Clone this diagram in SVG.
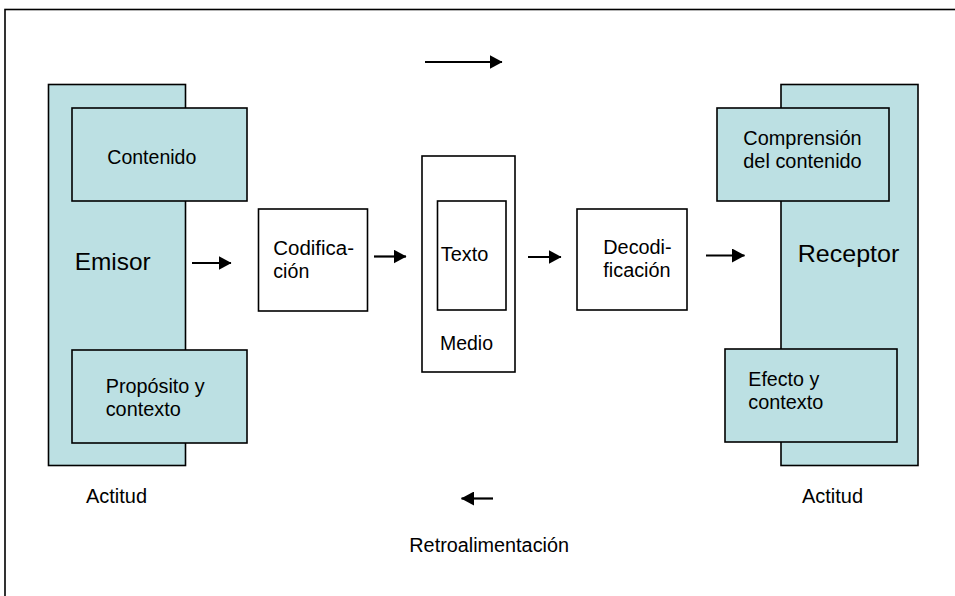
<svg xmlns="http://www.w3.org/2000/svg" width="955" height="596" viewBox="0 0 955 596">
<style>
  .frame{fill:none;stroke:#000;stroke-width:1.6}
  .teal{fill:#BCE0E3;stroke:#000;stroke-width:1.6}
  .white{fill:#fff;stroke:#000;stroke-width:1.6}
  .t{font-family:"Liberation Sans",Arial,sans-serif;font-size:19.5px;fill:#000}
  .big{font-family:"Liberation Sans",Arial,sans-serif;font-size:24px;fill:#000}
  .conn line{stroke:#000;stroke-width:2.2}
</style>
<defs>
  <marker id="ah" viewBox="0 0 13 14" refX="12.5" refY="7" markerWidth="13" markerHeight="14" markerUnits="userSpaceOnUse" orient="auto">
    <path d="M0,0 L13,7 L0,14 Z" fill="#000"/>
  </marker>
</defs>
<rect width="955" height="596" fill="#fff"/>
<rect class="frame" x="5" y="9.5" width="960" height="600"/>

<g id="emisor">
  <rect class="teal" x="48.5" y="84.5" width="137" height="381"/>
  <text class="big" x="74.7" y="270" textLength="76" lengthAdjust="spacingAndGlyphs">Emisor</text>
</g>
<g id="contenido">
  <rect class="teal" x="72" y="108" width="175" height="93"/>
  <text class="t" x="107.3" y="163.5" textLength="89" lengthAdjust="spacingAndGlyphs">Contenido</text>
</g>
<g id="proposito">
  <rect class="teal" x="72" y="350" width="175" height="93"/>
  <text class="t" x="105.7" y="393" textLength="99" lengthAdjust="spacingAndGlyphs">Propósito y</text>
  <text class="t" x="105.7" y="416" textLength="75" lengthAdjust="spacingAndGlyphs">contexto</text>
</g>
<g id="actitud-emisor">
  <text class="t" x="86" y="503" textLength="61" lengthAdjust="spacingAndGlyphs">Actitud</text>
</g>

<g id="codificacion">
  <rect class="white" x="258.5" y="209" width="109" height="102"/>
  <text class="t" x="273.3" y="255" textLength="80.7" lengthAdjust="spacingAndGlyphs">Codifica-</text>
  <text class="t" x="273.3" y="278" textLength="36" lengthAdjust="spacingAndGlyphs">ción</text>
</g>

<g id="medio">
  <rect class="white" x="422" y="156" width="93" height="216"/>
  <text class="t" x="440" y="350" textLength="53" lengthAdjust="spacingAndGlyphs">Medio</text>
</g>
<g id="texto">
  <rect class="white" x="437.5" y="201" width="68.5" height="109"/>
  <text class="t" x="440.7" y="261" textLength="47.6" lengthAdjust="spacingAndGlyphs">Texto</text>
</g>

<g id="decodificacion">
  <rect class="white" x="577" y="209" width="110" height="101"/>
  <text class="t" x="603.3" y="254" textLength="68.3" lengthAdjust="spacingAndGlyphs">Decodi-</text>
  <text class="t" x="603.3" y="277" textLength="67.3" lengthAdjust="spacingAndGlyphs">ficación</text>
</g>

<g id="receptor">
  <rect class="teal" x="781" y="84.5" width="137" height="381"/>
  <text class="big" x="797.7" y="262" textLength="101.6" lengthAdjust="spacingAndGlyphs">Receptor</text>
</g>
<g id="comprension">
  <rect class="teal" x="717" y="108" width="172" height="93"/>
  <text class="t" x="743.3" y="145" textLength="118.4" lengthAdjust="spacingAndGlyphs">Comprensión</text>
  <text class="t" x="743.3" y="168" textLength="118.4" lengthAdjust="spacingAndGlyphs">del contenido</text>
</g>
<g id="efecto">
  <rect class="teal" x="725" y="349" width="172" height="93"/>
  <text class="t" x="748.3" y="386" textLength="71" lengthAdjust="spacingAndGlyphs">Efecto y</text>
  <text class="t" x="748.3" y="408.5" textLength="75" lengthAdjust="spacingAndGlyphs">contexto</text>
</g>
<g id="actitud-receptor">
  <text class="t" x="802" y="503" textLength="61" lengthAdjust="spacingAndGlyphs">Actitud</text>
</g>

<g id="retroalimentacion">
  <text class="t" x="409.3" y="552" textLength="159.7" lengthAdjust="spacingAndGlyphs">Retroalimentación</text>
</g>

<g class="conn" id="connectors">
  <line x1="425" y1="62" x2="502" y2="62" marker-end="url(#ah)"/>
  <line x1="192" y1="263" x2="231" y2="263" marker-end="url(#ah)"/>
  <line x1="374" y1="256.5" x2="406" y2="256.5" marker-end="url(#ah)"/>
  <line x1="528" y1="257" x2="561" y2="257" marker-end="url(#ah)"/>
  <line x1="706" y1="255.5" x2="744.5" y2="255.5" marker-end="url(#ah)"/>
  <line x1="493" y1="498.5" x2="461.5" y2="498.5" marker-end="url(#ah)"/>
</g>
</svg>
